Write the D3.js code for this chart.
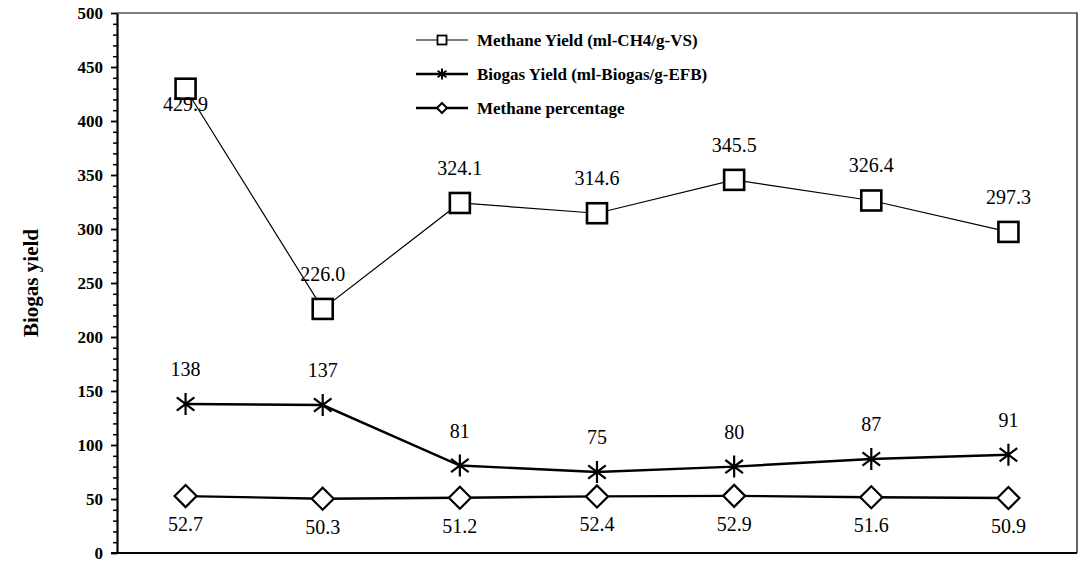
<!DOCTYPE html>
<html>
<head>
<meta charset="utf-8">
<script src="https://cdn.jsdelivr.net/npm/d3@7"></script>
</head>
<body style="margin:0">
<svg id="chart" width="1089" height="562" font-family="Liberation Serif"></svg>
<script>
// ---- data ----
const categories = ["1", "2", "3", "4", "5", "6", "7"];
const methaneYield = [429.9, 226.0, 324.1, 314.6, 345.5, 326.4, 297.3];
const biogasYield = [138, 137, 81, 75, 80, 87, 91];
const methanePercentage = [52.7, 50.3, 51.2, 52.4, 52.9, 51.6, 50.9];
const yTicks = [0, 50, 100, 150, 200, 250, 300, 350, 400, 450, 500];
const yMinorTicks = d3.range(0, 501, 10);
const seriesNames = ["Methane Yield (ml-CH4/g-VS)", "Biogas Yield (ml-Biogas/g-EFB)", "Methane percentage"];
const yTitle = "Biogas yield";

(function () {
const svg = d3.select("#chart");
const pLeft = 117, pRight = 1077, pTop = 13, pBottom = 553;
const x = d3.scalePoint().domain(categories).range([pLeft, pRight]).padding(0.5);
const y = d3.scaleLinear().domain([0, 500]).range([pBottom, pTop]);
const serif = "Liberation Serif";

svg.append("rect").attr("width", 1089).attr("height", 562).attr("fill", "#fff");

// plot border (top & right thin)
svg.append("path")
  .attr("d", `M${pLeft},${pTop}H${pRight}V${pBottom}`)
  .attr("fill", "none").attr("stroke", "#000").attr("stroke-width", 1.2);

// minor ticks
const minor = svg.append("g").attr("transform", `translate(${pLeft},0)`)
  .call(d3.axisLeft(y).tickValues(yMinorTicks.filter(v => v % 50 !== 0)).tickSize(4).tickFormat(""));
minor.select(".domain").remove();
minor.selectAll("line").attr("stroke-width", 1.5);

// major axis
const yAxis = svg.append("g").attr("transform", `translate(${pLeft},0)`)
  .call(d3.axisLeft(y).tickValues(yTicks).tickSize(6).tickSizeOuter(0).tickPadding(8));
yAxis.attr("font-family", serif).attr("font-size", 17);
yAxis.select(".domain").attr("stroke-width", 2.2);
yAxis.selectAll(".tick line").attr("stroke-width", 1.8);
yAxis.selectAll("text").attr("fill", "#000")
  .attr("font-family", serif).attr("font-weight", "bold").attr("font-size", 17);

// x axis line
svg.append("line").attr("x1", pLeft - 6).attr("x2", pRight).attr("y1", pBottom).attr("y2", pBottom)
  .attr("stroke", "#000").attr("stroke-width", 2.2);

// y title
svg.append("text")
  .attr("transform", `translate(38,${(pTop + pBottom) / 2}) rotate(-90)`)
  .attr("text-anchor", "middle")
  .attr("font-family", serif).attr("font-weight", "bold").attr("font-size", 21)
  .text(yTitle);

// marker drawers
function square(g, s, sw) {
  g.append("rect").attr("x", -s).attr("y", -s).attr("width", 2 * s).attr("height", 2 * s)
    .attr("fill", "#fff").attr("stroke", "#000").attr("stroke-width", sw);
}
function star(g, s, sw) {
  const d = s * 0.8;
  g.append("path")
    .attr("d", `M0,${-s}V${s}M${-d},${-d * 0.75}L${d},${d * 0.75}M${-d},${d * 0.75}L${d},${-d * 0.75}`)
    .attr("fill", "none").attr("stroke", "#000").attr("stroke-width", sw);
}
function diamond(g, s, sw) {
  g.append("path").attr("d", `M0,${-s}L${s},0L0,${s}L${-s},0Z`)
    .attr("fill", "#fff").attr("stroke", "#000").attr("stroke-width", sw);
}

const series = [
  { values: methaneYield, lw: 1.2, marker: square, ms: 10, msw: 2.6, fmt: d3.format(".1f"), legendMs: 4.5 },
  { values: biogasYield, lw: 2.4, marker: star, ms: 11, msw: 2.2, fmt: d3.format("d"), legendMs: 5.5 },
  { values: methanePercentage, lw: 2.4, marker: diamond, ms: 11, msw: 2.2, fmt: d3.format(".1f"), legendMs: 5 }
];

const line = d3.line().x((d, i) => x(categories[i])).y(d => y(d));

series.forEach((s) => {
  svg.append("path").datum(s.values).attr("d", line)
    .attr("fill", "none").attr("stroke", "#000").attr("stroke-width", s.lw);
});

series.forEach((s) => {
  s.values.forEach((v, i) => {
    const g = svg.append("g").attr("transform", `translate(${x(categories[i])},${y(v)})`);
    s.marker(g, s.ms, s.msw);
  });
});

// data labels
series.forEach((s, si) => {
  s.values.forEach((v, i) => {
    let dy;
    if (si === 2) dy = 35;
    else if (si === 0 && i === 0) dy = 22;
    else dy = -28;
    svg.append("text")
      .attr("x", x(categories[i])).attr("y", y(v) + dy)
      .attr("text-anchor", "middle")
      .attr("font-family", serif).attr("font-size", 20).attr("fill", "#000")
      .text(s.fmt(v));
  });
});

// legend
const legX1 = 416, legX2 = 468, legY0 = 40, legStep = 34;
series.forEach((s, si) => {
  const ly = legY0 + si * legStep;
  svg.append("line").attr("x1", legX1).attr("x2", legX2).attr("y1", ly).attr("y2", ly)
    .attr("stroke", "#000").attr("stroke-width", s.lw);
  const g = svg.append("g").attr("transform", `translate(${(legX1 + legX2) / 2},${ly})`);
  s.marker(g, s.legendMs, si === 0 ? 1.8 : 2);
  svg.append("text").attr("x", 477).attr("y", ly + 6)
    .attr("font-family", serif).attr("font-weight", "bold").attr("font-size", 17)
    .text(seriesNames[si]);
});
})();
</script>
</body>
</html>
